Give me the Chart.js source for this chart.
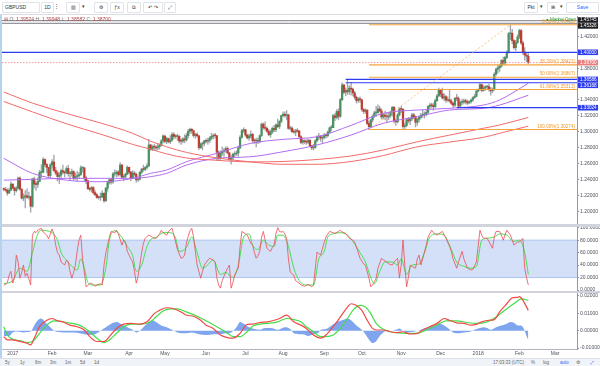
<!DOCTYPE html>
<html lang="en">
<head>
    <meta charset="UTF-8">
    <title>GBPUSD 1D</title>
    <script src="https://cdn.jsdelivr.net/npm/chart.js"></script>
    <style>
        body { margin: 0; width: 600px; height: 366px; overflow: hidden; background: #fff; position: relative;
               font-family: 'Liberation Sans', Arial, sans-serif; }
        canvas { position: absolute; left: 0; }
        .topbar { position: absolute; left: 0; top: 0; width: 600px; height: 14px; background: #fff; border-bottom: 1px solid #d9dbe0; }
        .btn { position: absolute; top: 2px; height: 9px; border: 1px solid #e1e3ea; border-radius: 1px; font-size: 5px;
               line-height: 9px; color: #333; text-align: center; background: #fff; }
        .legend { position: absolute; left: 4px; top: 16px; font-size: 5px; color: #a44; white-space: nowrap; }
        .legend b { font-weight: normal; color: #777; }
        .market { position: absolute; left: 546px; top: 17px; font-size: 4.5px; color: #2e9e4f; white-space: nowrap; }
        .sep { position: absolute; left: 0; width: 600px; background: #d1d4dc; }
        .stripe { position: absolute; left: 0; top: 15px; width: 2px; height: 343px; background: #b6d3ee; }
        .bottombar { position: absolute; left: 0; top: 358px; width: 600px; height: 8px; background: #f0f3f8; border-top: 1px solid #dde0e6;
                     font-size: 4.5px; color: #666; }
        .bottombar span { position: absolute; top: 1px; }
    </style>
</head>
<body>
    <div class="topbar">
        <div class="btn" style="left:2px;width:34px;text-align:left;padding-left:2px">GBPUSD</div>
        <div class="btn" style="left:41px;width:11px">1D</div>
        <div class="btn" style="left:54px;width:5px;border:none">⋮</div>
        <div class="btn" style="left:66px;width:12px">▥</div>
        <div class="btn" style="left:80px;width:7px;border:none">▾</div>
        <div class="btn" style="left:94px;width:12px">⚙</div>
        <div class="btn" style="left:110px;width:12px">ƒx</div>
        <div class="btn" style="left:127px;width:12px">⧉</div>
        <div class="btn" style="left:143px;width:18px">↶ ↷</div>
        <div class="btn" style="left:164px;width:10px">⤢</div>
        <div class="btn" style="left:524px;width:12px">Pkt</div>
        <div class="btn" style="left:538px;width:6px;border:none">▾</div>
        <div class="btn" style="left:547px;width:10px">⊞</div>
        <div class="btn" style="left:558px;width:6px;border:none">▾</div>
        <div class="btn" style="left:566px;width:31px;color:#2962ff">Save</div>
    </div>

    <canvas id="priceChart" width="600" height="208" style="top:16px"></canvas>
    <canvas id="stochChart" width="600" height="64" style="top:227px"></canvas>
    <canvas id="macdChart" width="600" height="65" style="top:293px"></canvas>

    <div class="sep" style="top:224px;height:3px"></div>
    <div class="sep" style="top:291px;height:2px"></div>
    <div class="stripe"></div>
    <div class="legend" id="legend"></div>
    <div class="market">● Market Open</div>

    <div class="bottombar">
        <span style="left:5px">5y</span><span style="left:20px">1y</span><span style="left:35px">6m</span>
        <span style="left:50px">3m</span><span style="left:65px">1m</span><span style="left:80px">5d</span>
        <span style="left:94px">1d</span>
        <span style="left:493px">17:03:33 (UTC)</span><span style="left:531px">%</span>
        <span style="left:543px">log</span><span style="left:560px;color:#2962ff">auto</span>
        <span style="left:576px">⚙</span><span style="left:590px;color:#2962ff">⤢</span>
    </div>

    <script>
        // daily bars, index 0 = 2 Jan 2017 (first bar is 26 Dec 2016)
        const firstIdx = -5;
        const firstOpen = 1.2280;
        const closes = [
            1.2275,1.2264,1.2229,1.2263,1.2341,
            1.2290,1.2258,1.2290,1.2416,1.2277,1.2164,1.2178,1.2194,1.2175,1.2182,1.2062,1.2405,1.2340,1.2336,1.2373,1.2488,1.2489,1.2650,1.2587,1.2550,1.2447,1.2583,
            1.2620,1.2510,1.2480,1.2436,1.2453,1.2509,1.2491,1.2482,1.2537,1.2473,1.2473,1.2498,1.2409,1.2436,1.2445,1.2460,1.2545,1.2545,1.2418,1.2383,
            1.2283,1.2275,1.2297,1.2233,1.2207,1.2172,1.2171,1.2183,1.2225,1.2131,1.2289,1.2360,1.2395,1.2368,1.2469,1.2473,1.2492,1.2458,1.2580,1.2427,1.2438,1.2466,1.2551,
            1.2491,1.2421,1.2479,1.2465,1.2395,1.2403,1.2488,1.2528,1.2525,1.2550,1.2570,1.2834,1.2781,1.2811,1.2806,1.2796,1.2812,1.2830,1.2884,1.2946,
            1.2877,1.2913,1.2872,1.2895,1.2966,1.2941,1.2940,1.2943,1.2883,1.2881,1.2908,1.2896,1.2950,1.3005,1.3031,1.3012,1.2951,1.2966,1.2948,1.2798,1.2845,1.2854,1.2885,
            1.2880,1.2890,1.2919,1.2942,1.2951,1.2950,1.2742,1.2665,1.2730,1.2752,1.2763,1.2789,1.2733,1.2649,1.2670,1.2716,1.2722,1.2732,1.2795,1.2930,1.3014,1.3025,
            1.2957,1.2922,1.2945,1.2966,1.2888,1.2885,1.2888,1.2879,1.2952,1.3095,1.3051,1.3043,1.3006,1.2962,1.2995,1.3043,1.3024,1.3086,1.3065,1.3131,1.3201,
            1.3220,1.3205,1.3212,1.3042,1.3046,1.3001,1.2995,1.3012,1.3009,1.2937,1.2866,1.2888,1.2875,1.2868,1.2892,1.2821,1.2797,1.2804,1.2886,1.2933,1.2938,1.2919,1.2927,
            1.2951,1.2950,1.2995,1.3049,1.3051,1.3201,1.3178,1.3255,1.3193,1.3403,1.3588,1.3497,1.3520,1.3503,1.3549,1.3536,1.3488,1.3434,1.3392,1.3414,1.3402,
            1.3282,1.3255,1.3271,1.3104,1.3064,1.3148,1.3195,1.3237,1.3241,1.3287,1.3262,1.3185,1.3210,1.3192,1.3186,1.3205,1.3240,1.3307,1.3137,1.3125,1.3211,1.3286,
            1.3282,1.3065,1.3077,1.3151,1.3136,1.3163,1.3212,1.3189,1.3118,1.3157,1.3182,1.3208,1.3212,1.3225,1.3243,1.3318,1.3335,1.3330,1.3315,1.3391,1.3451,1.3525,
            1.3475,1.3424,1.3441,1.3397,1.3403,1.3385,1.3357,1.3334,1.3421,1.3420,1.3322,1.3370,1.3373,1.3390,1.3378,1.3362,1.3378,1.3400,1.3429,1.3445,1.3510,
            1.3530,1.3593,1.3521,1.3552,1.3566,1.3568,1.3535,1.3514,1.3536,1.3725,1.3788,1.3806,1.3827,1.3896,1.3865,1.3935,1.4000,1.4236,1.4240,1.4147,1.4058,1.4124,1.4193,
            1.4274,1.4117,1.4005,1.3965,1.39524,1.38700
        ];
        const highs = [
            1.2295,1.2300,1.2280,1.2290,1.2370,
            1.2345,1.2305,1.2310,1.2430,1.2432,1.2280,1.2220,1.2260,1.2280,1.2240,1.2190,1.2415,1.2430,1.2370,1.2420,1.2515,1.2585,1.2675,1.2660,1.2600,1.2550,1.2600,
            1.2650,1.2706,1.2550,1.2510,1.2490,1.2530,1.2580,1.2510,1.2560,1.2580,1.2500,1.2530,1.2510,1.2480,1.2500,1.2490,1.2570,1.2560,1.2550,1.2440,
            1.2385,1.2300,1.2310,1.2310,1.2260,1.2220,1.2190,1.2230,1.2260,1.2230,1.2300,1.2380,1.2410,1.2410,1.2490,1.2520,1.2510,1.2510,1.2610,1.2590,1.2460,1.2480,1.2570,
            1.2555,1.2500,1.2510,1.2500,1.2480,1.2420,1.2500,1.2540,1.2580,1.2560,1.2600,1.2905,1.2840,1.2830,1.2840,1.2830,1.2850,1.2850,1.2900,1.2965,
            1.2950,1.2930,1.2920,1.2950,1.2990,1.2990,1.2960,1.2970,1.2950,1.2910,1.2925,1.2960,1.2980,1.3030,1.3045,1.3040,1.3020,1.2980,1.2990,1.2950,1.2860,1.2870,1.2890,
            1.2910,1.2920,1.2940,1.2980,1.2970,1.2980,1.2950,1.2760,1.2760,1.2810,1.2790,1.2810,1.2810,1.2740,1.2700,1.2730,1.2750,1.2760,1.2820,1.2950,1.3030,1.3050,
            1.3030,1.2970,1.2970,1.3010,1.2980,1.2910,1.2920,1.2920,1.2960,1.3110,1.3110,1.3125,1.3060,1.3030,1.3020,1.3060,1.3080,1.3100,1.3160,1.3140,1.3210,
            1.3250,1.3250,1.3267,1.3220,1.3070,1.3060,1.3030,1.3030,1.3040,1.3010,1.2950,1.2920,1.2900,1.2900,1.2910,1.2900,1.2830,1.2840,1.2900,1.2950,1.2980,1.2950,1.2950,
            1.2980,1.2970,1.3010,1.3060,1.3080,1.3220,1.3230,1.3280,1.3290,1.3420,1.3615,1.3600,1.3550,1.3657,1.3580,1.3620,1.3550,1.3510,1.3450,1.3430,1.3440,
            1.3410,1.3290,1.3290,1.3280,1.3130,1.3160,1.3210,1.3260,1.3320,1.3340,1.3320,1.3290,1.3230,1.3260,1.3230,1.3240,1.3260,1.3320,1.3320,1.3160,1.3230,1.3300,
            1.3320,1.3290,1.3110,1.3170,1.3180,1.3180,1.3230,1.3230,1.3200,1.3170,1.3200,1.3230,1.3270,1.3250,1.3280,1.3330,1.3360,1.3360,1.3360,1.3410,1.3470,1.3550,
            1.3530,1.3550,1.3480,1.3460,1.3440,1.3520,1.3410,1.3370,1.3430,1.3470,1.3440,1.3390,1.3410,1.3410,1.3410,1.3400,1.3390,1.3410,1.3440,1.3470,1.3520,
            1.3540,1.3610,1.3600,1.3580,1.3580,1.3580,1.3600,1.3560,1.3550,1.3740,1.3800,1.3840,1.3850,1.3910,1.3940,1.3950,1.4020,1.4250,1.4345,1.4290,1.4160,1.4150,1.4220,
            1.4290,1.4290,1.4140,1.4060,1.3990,1.39948
        ];
        const lows = [
            1.2255,1.2250,1.2200,1.2220,1.2260,
            1.2280,1.2200,1.2240,1.2280,1.2260,1.2150,1.2130,1.2040,1.2160,1.2150,1.1986,1.2050,1.2290,1.2260,1.2300,1.2370,1.2420,1.2480,1.2560,1.2480,1.2430,1.2420,
            1.2540,1.2500,1.2460,1.2380,1.2345,1.2410,1.2470,1.2430,1.2470,1.2440,1.2390,1.2440,1.2385,1.2400,1.2380,1.2410,1.2450,1.2490,1.2380,1.2345,
            1.2270,1.2250,1.2240,1.2215,1.2190,1.2160,1.2150,1.2135,1.2170,1.2110,1.2120,1.2250,1.2340,1.2340,1.2350,1.2440,1.2430,1.2440,1.2440,1.2410,1.2380,1.2420,1.2460,
            1.2470,1.2380,1.2410,1.2440,1.2365,1.2370,1.2390,1.2470,1.2500,1.2510,1.2530,1.2560,1.2765,1.2760,1.2770,1.2760,1.2770,1.2780,1.2820,1.2860,
            1.2860,1.2850,1.2860,1.2850,1.2880,1.2910,1.2915,1.2890,1.2860,1.2840,1.2860,1.2860,1.2880,1.2920,1.2980,1.2980,1.2930,1.2920,1.2930,1.2775,1.2790,1.2770,1.2820,
            1.2860,1.2840,1.2860,1.2900,1.2910,1.2920,1.2635,1.2640,1.2650,1.2700,1.2690,1.2740,1.2720,1.2640,1.2590,1.2640,1.2680,1.2700,1.2690,1.2790,1.2920,1.2990,
            1.2940,1.2910,1.2890,1.2920,1.2860,1.2850,1.2810,1.2850,1.2860,1.2940,1.3030,1.3020,1.2990,1.2950,1.2930,1.2980,1.3000,1.3000,1.3050,1.3040,1.3110,
            1.3190,1.3180,1.3150,1.3030,1.3020,1.2990,1.2980,1.2950,1.2990,1.2930,1.2850,1.2840,1.2850,1.2840,1.2850,1.2810,1.2775,1.2770,1.2790,1.2870,1.2900,1.2880,1.2860,
            1.2910,1.2920,1.2930,1.2980,1.3010,1.3050,1.3140,1.3160,1.3150,1.3180,1.3390,1.3480,1.3450,1.3470,1.3470,1.3460,1.3450,1.3410,1.3360,1.3370,1.3370,
            1.3260,1.3230,1.3230,1.3090,1.3027,1.3060,1.3120,1.3180,1.3190,1.3230,1.3250,1.3160,1.3160,1.3150,1.3120,1.3150,1.3180,1.3200,1.3110,1.3080,1.3110,1.3200,
            1.3240,1.3040,1.3030,1.3060,1.3110,1.3090,1.3140,1.3160,1.3060,1.3080,1.3120,1.3160,1.3180,1.3170,1.3200,1.3230,1.3290,1.3300,1.3270,1.3300,1.3380,1.3440,
            1.3440,1.3410,1.3390,1.3370,1.3380,1.3370,1.3340,1.3300,1.3320,1.3390,1.3300,1.3320,1.3340,1.3350,1.3350,1.3340,1.3355,1.3360,1.3380,1.3420,1.3440,
            1.3500,1.3520,1.3500,1.3510,1.3520,1.3540,1.3510,1.3460,1.3490,1.3520,1.3710,1.3740,1.3760,1.3810,1.3840,1.3840,1.3920,1.3990,1.4160,1.4110,1.4040,1.4020,1.4110,
            1.4170,1.4100,1.3970,1.3900,1.3880,1.38582
        ];

        // moving averages at these bar indices
        const maIdx   = [-5, 11, 30, 49, 67, 77, 86, 97, 114, 133, 151, 170, 189, 207, 226, 244, 263, 272, 288];
        const maRed1  = [1.3500,1.3360,1.3230,1.3110,1.2980,1.2880,1.2810,1.2740,1.2670,1.2620,1.2590,1.2590,1.2625,1.2700,1.2810,1.2870,1.2930,1.2980,1.3070];
        const maRed2  = [1.3380,1.3250,1.3100,1.2970,1.2840,1.2780,1.2720,1.2670,1.2640,1.2620,1.2625,1.2650,1.2695,1.2770,1.2874,1.2957,1.3044,1.3085,1.3180];
        const maPurp1 = [1.2665,1.2476,1.2390,1.2370,1.2413,1.2476,1.2518,1.2622,1.2728,1.2854,1.2904,1.2937,1.3080,1.3232,1.3273,1.3295,1.3336,1.3400,1.3610];
        const maPurp2 = [1.2390,1.2400,1.2413,1.2413,1.2413,1.2434,1.2476,1.2580,1.2665,1.2685,1.2748,1.2833,1.2958,1.3106,1.3189,1.3273,1.3295,1.3336,1.3460];

        // drawn levels
        const blueLevels = [1.40000, 1.36586, 1.36168, 1.33024];
        const blueFrom   = [-6, 186, 186, 248];
        const topLevels  = [1.45745, 1.45326];
        const fibPct     = [0, 38.2, 50, 61.8, 100];
        const fibLevels  = [1.43460, 1.38422, 1.36867, 1.35313, 1.30274];
        const fibFrom    = 199;
        const fibTo      = 278;

        // stochastic [bar, value]
        const stochK = [[-5,8],[-4,9],[-3,12],[-2,24],[-1,30],[0,11],[1,20],[2,56],[3,45],[4,19],[5,28],[6,40],[7,22],[8,27],[9,18],[10,8],[11,88],[12,94],[13,92],[14,96],[16,99],[17,93],[19,88],[20,82],[22,98],[23,90],[24,72],[25,60],[26,56],[27,45],[29,40],[30,48],[31,45],[32,30],[33,19],[34,28],[35,40],[36,62],[37,80],[38,88],[39,50],[40,29],[41,5],[43,10],[44,11],[46,6],[47,8],[49,10],[50,8],[51,40],[52,60],[53,72],[54,85],[55,94],[57,92],[58,96],[59,90],[61,72],[62,80],[63,77],[64,62],[65,56],[66,50],[67,45],[68,30],[69,11],[70,22],[71,40],[72,60],[73,75],[74,83],[75,86],[76,88],[78,85],[79,83],[80,83],[82,90],[83,96],[84,92],[86,88],[87,94],[89,99],[90,88],[91,77],[92,65],[94,51],[95,52],[96,56],[97,75],[98,86],[99,95],[100,99],[101,85],[102,62],[103,40],[105,19],[106,30],[107,40],[109,48],[110,51],[112,48],[113,45],[114,20],[115,8],[116,3],[117,15],[119,29],[120,35],[121,40],[122,3],[123,12],[124,24],[125,30],[126,35],[127,70],[128,94],[130,90],[131,88],[133,75],[134,72],[135,60],[136,51],[137,55],[138,62],[139,85],[140,94],[141,80],[142,67],[143,64],[144,62],[145,68],[146,72],[147,90],[148,100],[149,94],[150,93],[151,94],[152,90],[153,83],[154,50],[155,29],[156,26],[157,24],[158,15],[160,11],[161,8],[163,6],[165,9],[167,5],[168,8],[170,61],[172,56],[174,77],[175,85],[177,94],[179,92],[180,91],[182,94],[183,96],[184,93],[186,91],[188,83],[190,80],[191,77],[193,60],[194,51],[196,42],[197,40],[199,19],[200,5],[201,8],[203,19],[204,35],[206,51],[207,48],[209,45],[210,42],[212,40],[213,45],[215,51],[216,19],[217,40],[218,80],[219,40],[220,5],[221,20],[222,40],[223,38],[225,35],[226,50],[227,56],[228,40],[229,50],[231,72],[232,85],[234,96],[235,92],[237,88],[238,90],[240,94],[241,88],[242,83],[244,70],[245,62],[246,50],[248,35],[249,45],[251,62],[252,50],[254,35],[256,32],[257,33],[259,45],[261,96],[262,88],[263,83],[265,83],[266,78],[268,67],[269,85],[270,94],[272,94],[273,88],[274,80],[276,96],[277,92],[278,88],[280,72],[282,77],[283,77],[285,83],[286,35],[287,20],[288,8]];
        const stochD = [[-5,10],[0,15],[4,35],[8,30],[11,60],[14,90],[16,96],[19,95],[22,92],[25,80],[27,60],[30,48],[33,38],[36,32],[38,50],[40,35],[42,12],[45,8],[49,8],[52,35],[54,80],[57,95],[60,88],[64,70],[67,55],[69,30],[72,40],[75,70],[78,83],[80,84],[84,92],[88,92],[91,83],[93,62],[97,68],[100,85],[103,60],[106,35],[108,38],[112,48],[116,25],[119,28],[123,20],[126,40],[129,85],[132,90],[134,72],[137,65],[140,80],[143,72],[146,70],[148,88],[151,88],[154,70],[157,35],[160,15],[164,8],[168,8],[171,50],[174,62],[176,85],[179,90],[183,92],[187,88],[190,78],[194,60],[197,45],[200,20],[202,10],[205,30],[208,45],[212,45],[215,40],[217,50],[220,25],[223,40],[227,42],[230,60],[233,85],[237,90],[241,88],[244,72],[248,45],[252,38],[256,35],[259,38],[262,80],[265,83],[269,85],[272,90],[276,88],[280,78],[283,80],[286,60],[288,25]];
        const stochBand = [20, 80];

        // MACD [bar, value]
        const macdLine = [[-5,-0.0034],[-3,-0.0053],[0,-0.0053],[4,-0.0062],[8,-0.0072],[10,-0.0081],[12,-0.0043],[15,0.0023],[19,0.006],[22,0.007],[25,0.0057],[28,0.0051],[32,0.0032],[36,0.0023],[40,0.0004],[43,-0.0034],[47,-0.0062],[51,-0.0062],[54,-0.0034],[58,0.0013],[62,0.0038],[66,0.0042],[71,0.0038],[75,0.0051],[79,0.0098],[82,0.0117],[86,0.0132],[90,0.0126],[94,0.0108],[97,0.0089],[101,0.0083],[105,0.006],[108,0.0032],[112,0.0013],[116,-0.0025],[120,-0.004],[123,-0.0043],[127,-0.0015],[131,0.0036],[134,0.0038],[138,0.0047],[142,0.0051],[146,0.006],[149,0.007],[153,0.0089],[157,0.0051],[161,0.0032],[164,0.0013],[168,-0.0025],[172,-0.0043],[175,-0.0025],[179,0.0023],[183,0.0079],[187,0.0136],[189,0.0155],[192,0.0145],[195,0.0117],[198,0.006],[201,0.0013],[203,0.0004],[207,0.0004],[211,-0.0006],[215,-0.0011],[218,-0.0006],[222,-0.0019],[226,-0.0015],[229,0.0004],[233,0.0023],[237,0.0042],[241,0.007],[244,0.006],[248,0.0045],[252,0.0042],[256,0.0032],[259,0.0036],[262,0.0051],[266,0.006],[269,0.0064],[272,0.0108],[276,0.0155],[279,0.0189],[282,0.0192],[283,0.0196],[285,0.0174],[288,0.0117]];
        const macdSignal = [[-5,0.0023],[-3,-0.0025],[0,-0.0049],[4,-0.0057],[8,-0.0068],[11,-0.0062],[15,-0.0015],[19,0.0032],[23,0.0057],[26,0.0055],[30,0.0047],[36,0.0036],[39,0.0023],[43,-0.0006],[47,-0.0043],[51,-0.0068],[54,-0.0053],[58,-0.0015],[62,0.0023],[66,0.0038],[71,0.0036],[77,0.0051],[80,0.0079],[84,0.0113],[88,0.0126],[92,0.0126],[97,0.0108],[103,0.0083],[108,0.0057],[114,0.0023],[120,-0.0015],[123,-0.0034],[127,-0.0034],[131,-0.0006],[134,0.0026],[138,0.0038],[142,0.0042],[148,0.0051],[153,0.007],[157,0.0064],[161,0.0051],[164,0.0023],[168,-0.0006],[172,-0.0034],[175,-0.0034],[179,-0.0025],[183,0.0013],[187,0.007],[190,0.0117],[194,0.0145],[197,0.0136],[200,0.0098],[203,0.0042],[207,0.0008],[211,-0.0006],[214,-0.0011],[220,-0.0015],[226,-0.0015],[231,0.0004],[237,0.0032],[242,0.0057],[248,0.0057],[254,0.0047],[259,0.0042],[265,0.0051],[270,0.0079],[276,0.0126],[281,0.0164],[284,0.0183],[288,0.0174]];
        const macdHist = [[-5,-0.003],[-2,-0.003],[0,-0.001],[3,-0.0005],[6,-0.001],[8,-0.0008],[10,-0.0005],[12,0.003],[14,0.006],[16,0.007],[18,0.005],[20,0.003],[22,0.001],[24,-0.0005],[28,-0.001],[32,-0.001],[36,-0.0012],[40,-0.002],[44,-0.0025],[47,-0.0015],[49,0],[52,0.002],[55,0.004],[58,0.005],[61,0.0035],[64,0.002],[67,0.0005],[69,-0.001],[72,0.001],[75,0.004],[78,0.006],[80,0.005],[83,0.003],[86,0.002],[89,0.0005],[92,-0.001],[96,-0.0015],[100,-0.001],[104,-0.002],[108,-0.0025],[112,-0.002],[116,-0.002],[119,-0.0015],[122,-0.001],[125,0.002],[127,0.005],[129,0.004],[132,0.002],[135,0.001],[138,0.0005],[141,0.0015],[144,0.0015],[148,0.0005],[152,0.002],[155,0.001],[157,-0.0015],[160,-0.002],[162,-0.002],[165,-0.003],[168,-0.002],[171,-0.001],[172,0.0005],[175,0.001],[178,0.003],[181,0.005],[184,0.006],[187,0.007],[189,0.006],[192,0.003],[195,0.0005],[197,-0.002],[199,-0.005],[201,-0.007],[203,-0.006],[205,-0.003],[207,-0.001],[209,0],[212,0],[214,0.0005],[216,0.0013],[218,0],[220,-0.001],[223,-0.0008],[226,0],[229,0.001],[232,0.002],[235,0.003],[238,0.004],[240,0.0035],[243,0.0015],[246,-0.001],[249,-0.0015],[252,-0.001],[255,-0.0008],[258,0.0005],[261,0.0015],[263,0.002],[265,0.0015],[267,0.0005],[270,0.002],[273,0.003],[276,0.004],[278,0.005],[280,0.0045],[282,0.003],[284,0.003],[286,0],[287,-0.003],[288,-0.0053]];

        // time axis
        const monthIdx   = [0, 22, 42, 65, 85, 108, 130, 151, 174, 195, 217, 239, 260, 283, 303];
        const monthNames = ['2017','Feb','Mar','Apr','May','Jun','Jul','Aug','Sep','Oct','Nov','Dec','2018','Feb','Mar'];

        const xMin = -6, xMax = 315.2;
        const upColor = '#4a9060', downColor = '#c23b30';

        Chart.defaults.font.family = "'Liberation Sans', Arial, sans-serif";
        Chart.defaults.font.size = 5;
        Chart.defaults.color = '#4c525e';

        const opens = closes.map((c, k) => k === 0 ? firstOpen : closes[k - 1]);
        const lastClose = closes[closes.length - 1];
        const toXY = arr => arr.map(([x, y]) => ({x, y}));
        const flat = (v, from, to) => [{x: from, y: v}, {x: to, y: v}];

        document.getElementById('legend').innerHTML =
            '⊟ <b>O:</b> ' + opens[opens.length - 1].toFixed(5) +
            ' <b>H:</b> ' + highs[highs.length - 1].toFixed(5) +
            ' <b>L:</b> ' + lows[lows.length - 1].toFixed(5) +
            ' <b>C:</b> ' + lastClose.toFixed(5);

        function rightAxis(min, max, step, digits) {
            return {
                position: 'right', min: min, max: max,
                afterFit: s => { s.width = 23; s.paddingTop = 0; s.paddingBottom = 0; },
                ticks: { stepSize: step, includeBounds: false, padding: 1, callback: v => v.toFixed(digits) },
                grid: { drawOnChartArea: false, tickLength: 2, color: '#8a8e99' },
                border: { color: '#9598a1' }
            };
        }
        function hiddenX() {
            return { type: 'linear', min: xMin, max: xMax, offset: false, display: false };
        }
        const baseOpts = {
            responsive: false, animation: false, devicePixelRatio: 1, events: [],
            layout: { padding: { left: 2, right: 0, top: 0, bottom: 0 } },
            plugins: { legend: { display: false }, tooltip: { enabled: false } }
        };

        const priceTags = {
            id: 'priceTags',
            afterDatasetsDraw(chart) {
                const {ctx, chartArea: a, scales: {y}} = chart;
                ctx.save();
                // levels above the visible range sit pinned under the top edge
                ctx.strokeStyle = '#6b6e75';
                ctx.lineWidth = 0.9;
                topLevels.forEach((v, k) => {
                    const py = a.top + 4.7 + k * 2.6;
                    ctx.beginPath(); ctx.moveTo(a.left, py); ctx.lineTo(a.right, py); ctx.stroke();
                });
                ctx.font = "4.6px 'Liberation Sans', Arial";
                ctx.fillStyle = '#f29a2e';
                ctx.textAlign = 'right';
                ctx.textBaseline = 'bottom';
                fibLevels.forEach((v, k) => {
                    ctx.fillText(fibPct[k].toFixed(2) + '%(' + v.toFixed(5) + ')', a.right - 2, y.getPixelForValue(v) - 0.8);
                });
                ctx.restore();
            },
            afterDraw(chart) {
                const {ctx, chartArea: a, scales: {y}} = chart;
                const tags = [
                    ...topLevels.map(v => ({v, bg: '#1e1f24'})),
                    ...blueLevels.map(v => ({v, bg: '#2b3cf0'})),
                    {v: lastClose, bg: '#ec7d7d'}
                ].sort((p, q) => q.v - p.v);
                ctx.save();
                ctx.font = "4.6px 'Liberation Sans', Arial";
                ctx.textBaseline = 'middle';
                ctx.textAlign = 'left';
                let prev = -100;
                tags.forEach(t => {
                    let py = Math.min(Math.max(y.getPixelForValue(t.v), a.top + 4), a.bottom - 3);
                    py = Math.max(py, prev + 5.9);
                    prev = py;
                    ctx.fillStyle = t.bg;
                    ctx.fillRect(a.right + 1, py - 2.8, 20, 5.6);
                    ctx.fillStyle = '#fff';
                    ctx.fillText(t.v.toFixed(5), a.right + 3, py + 0.2);
                });
                ctx.restore();
            }
        };

        const levelSets = [];
        blueLevels.forEach((v, k) => levelSets.push({
            type: 'line', data: flat(v, blueFrom[k], xMax), borderColor: '#2b3cf0', borderWidth: 1.2, pointRadius: 0, order: 2
        }));
        fibLevels.forEach(v => levelSets.push({
            type: 'line', data: flat(v, fibFrom, xMax), borderColor: '#f6a43a', borderWidth: 1.1, pointRadius: 0, order: 1
        }));
        levelSets.push({
            type: 'line', data: flat(lastClose, xMin, xMax), borderColor: '#f08a8a', borderWidth: 0.9,
            borderDash: [1.5, 1.5], pointRadius: 0, order: 2
        });
        levelSets.push({
            type: 'line', data: [{x: fibFrom, y: fibLevels[4]}, {x: fibTo, y: fibLevels[0]}],
            borderColor: '#f6b366', borderWidth: 0.8, borderDash: [2, 2], pointRadius: 0, order: 1
        });

        const maLine = (vals, color) => ({
            type: 'line', data: maIdx.map((x, k) => ({x, y: vals[k]})), borderColor: color, borderWidth: 1,
            pointRadius: 0, cubicInterpolationMode: 'monotone', order: 3
        });

        new Chart(document.getElementById('priceChart'), {
            type: 'bar',
            data: {
                datasets: [
                    {
                        data: closes.map((c, k) => ({x: firstIdx + k, y: [lows[k], highs[k]]})),
                        backgroundColor: '#a3a6ad', barThickness: 0.7, grouped: false, order: 6
                    },
                    {
                        data: closes.map((c, k) => ({x: firstIdx + k, y: [opens[k], c]})),
                        backgroundColor: closes.map((c, k) => c >= opens[k] ? upColor : downColor),
                        barThickness: 1.6, grouped: false, minBarLength: 0.8, order: 5
                    },
                    maLine(maRed1, '#f26b6b'),
                    maLine(maRed2, '#f26b6b'),
                    maLine(maPurp1, '#b46cf2'),
                    maLine(maPurp2, '#b46cf2'),
                    ...levelSets
                ]
            },
            options: {
                ...baseOpts,
                scales: { x: hiddenX(), y: rightAxis(1.1838, 1.4457, 0.02, 5) }
            },
            plugins: [priceTags]
        });

        new Chart(document.getElementById('stochChart'), {
            type: 'line',
            data: {
                datasets: [
                    { data: flat(stochBand[1], xMin, xMax), borderColor: '#9db9ec', borderWidth: 0.8, pointRadius: 0,
                      fill: '+1', backgroundColor: 'rgba(120,160,232,0.33)', order: 4 },
                    { data: flat(stochBand[0], xMin, xMax), borderColor: '#9db9ec', borderWidth: 0.8, pointRadius: 0, order: 3 },
                    { data: toXY(stochD), borderColor: '#49de4f', borderWidth: 1, pointRadius: 0, cubicInterpolationMode: 'monotone', order: 2 },
                    { data: toXY(stochK), borderColor: '#ee4b55', borderWidth: 0.8, pointRadius: 0, order: 1 }
                ]
            },
            options: {
                ...baseOpts,
                scales: { x: hiddenX(), y: rightAxis(-1.6, 101.1, 20, 4) }
            }
        });

        new Chart(document.getElementById('macdChart'), {
            type: 'line',
            data: {
                datasets: [
                    { data: toXY(macdHist), borderWidth: 0, pointRadius: 0, fill: 'origin',
                      backgroundColor: '#7ea5ee', cubicInterpolationMode: 'monotone', order: 3 },
                    { data: toXY(macdSignal), borderColor: '#42df47', borderWidth: 1.2, pointRadius: 0, cubicInterpolationMode: 'monotone', order: 2 },
                    { data: toXY(macdLine), borderColor: '#f24848', borderWidth: 1.2, pointRadius: 0, cubicInterpolationMode: 'monotone', order: 1 }
                ]
            },
            options: {
                ...baseOpts,
                scales: {
                    x: {
                        type: 'linear', position: 'bottom', min: xMin, max: xMax, offset: false,
                        afterBuildTicks: s => { s.ticks = monthIdx.map(v => ({value: v})); },
                        afterFit: s => { s.height = 9; s.paddingLeft = 0; s.paddingRight = 0; },
                        ticks: {
                            autoSkip: false, maxRotation: 0, minRotation: 0, padding: 1, color: '#50535e',
                            callback: v => monthNames[monthIdx.indexOf(v)]
                        },
                        grid: { display: true, drawOnChartArea: false, drawTicks: true, tickLength: 1, color: '#b2b5be' },
                        border: { display: true, color: '#b2b5be' }
                    },
                    y: rightAxis(-0.01052, 0.02167, 0.01, 5)
                }
            }
        });
    </script>
</body>
</html>
